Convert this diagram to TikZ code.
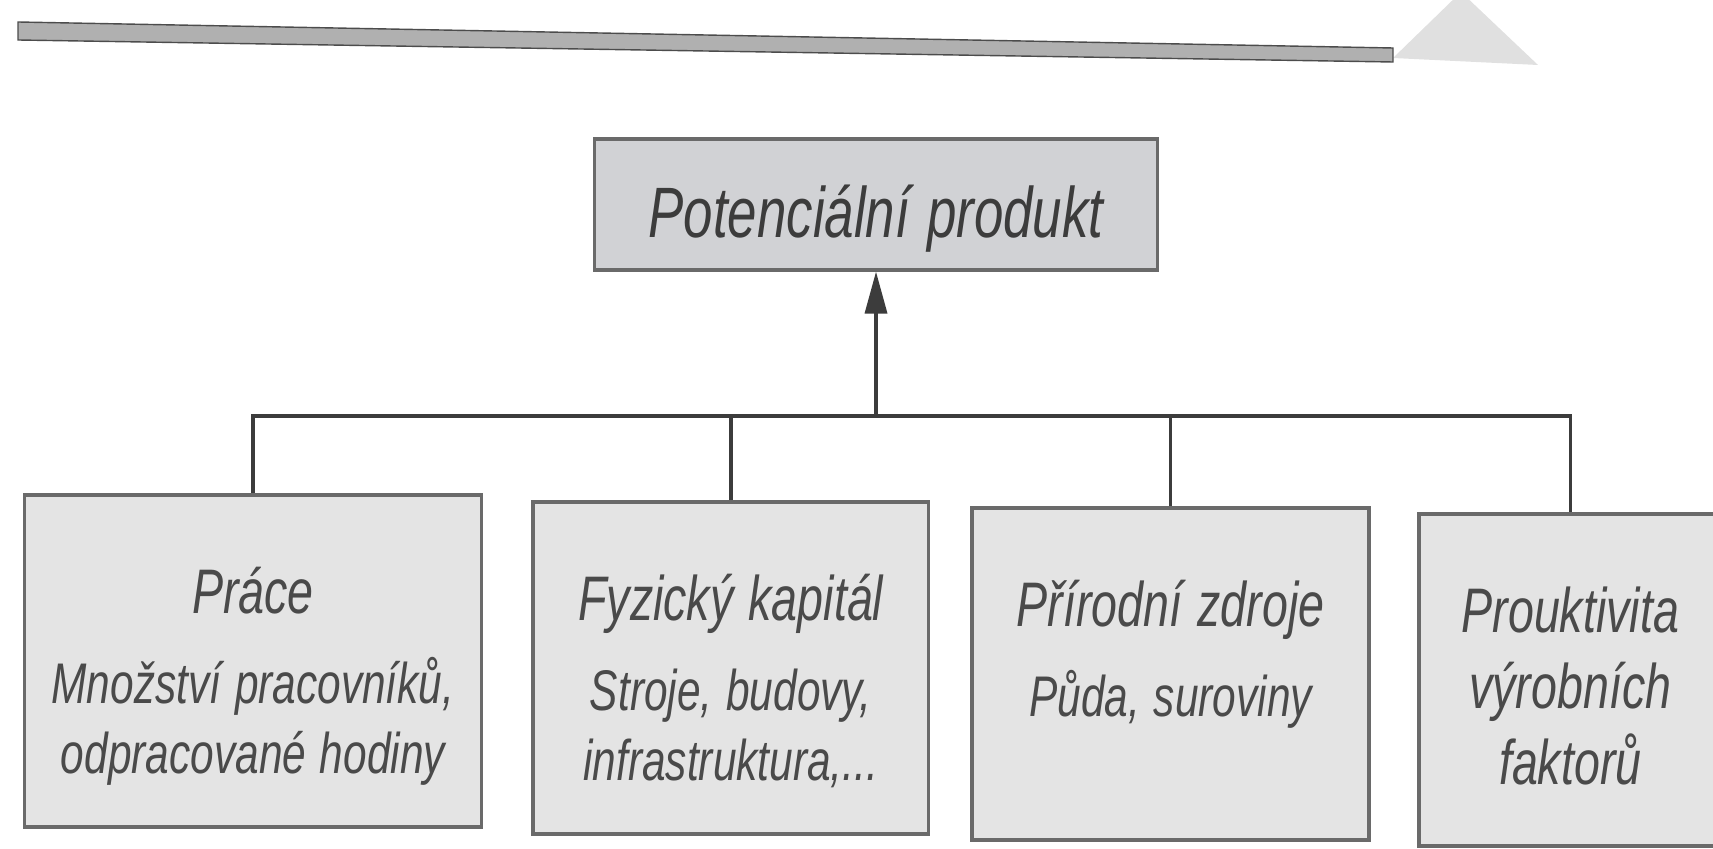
\documentclass[tikz,border=0pt]{standalone}
\usepackage{fontspec}
\usetikzlibrary{arrows.meta, positioning}
\newfontfamily\scanfont[FakeStretch=0.74]{Liberation Sans}
\newcommand{\tightsp}{\spaceskip=0.24em\relax}
\definecolor{boxgray}{HTML}{E4E4E4}
\definecolor{topgray}{HTML}{D1D2D5}
\definecolor{edgegray}{HTML}{6A6A6A}
\definecolor{inkgray}{HTML}{3C3C3C}
\definecolor{lightink}{HTML}{4A4A4A}
\tikzset{
    x=0.01cm, y=-0.01cm, % one unit is one pixel of the scan, y runs down
    >={Triangle[length=4.2mm, width=2.2mm]}, % heavy arrow head
    goal/.style={draw=edgegray, fill=topgray, line width=1pt, inner sep=0pt, minimum width=5.63cm, text height=0.99cm, text depth=0.32cm, text=inkgray, font=\scanfont\itshape\fontsize{20.3}{24}\selectfont\tightsp}, % the top box
    factor/.style={draw=edgegray, fill=boxgray, line width=1pt, inner sep=0pt, align=flush center, text height=1.19cm, text depth=2.13cm, text=lightink, font=\scanfont\itshape\fontsize{16.3}{19.9}\selectfont\tightsp}, % the four boxes below
    link/.style={draw=inkgray, line width=1pt}, % connectors
}
\newcommand{\ttl}[1]{{\fontsize{17.9}{19.9}\selectfont\tightsp #1}}

\begin{document}
\begin{tikzpicture}
    \useasboundingbox (0,0) rectangle (1713,849);
    \clip (0,0) rectangle (1713,849);
    % edge of the scanned page
    \fill[gray!24] (1393,58) -- (1461,-8) -- (1538,65) -- cycle;
    \fill[gray!62, draw=gray!60!black] (18,22) -- (1393,48) -- (1393,62) -- (18,40) -- cycle;

    \node[goal] (pp) at (876,137) [anchor=north] {Potenciální produkt};
    \node[factor, text width=4.57cm, anchor=north] (f1) at (253,493) {\ttl{Práce}\\[2mm]Množství pracovníků,\\odpracované hodiny};
    \node[factor, text width=3.95cm, right=0.48cm of f1, yshift=-0.07cm] (f2) {\ttl{Fyzický kapitál}\\[2mm]Stroje, budovy,\\infrastruktura,...};
    \node[factor, text width=3.97cm, right=0.40cm of f2, yshift=-0.06cm] (f3) {\ttl{Přírodní zdroje}\\[2mm]Půda, suroviny};
    \node[factor, text width=3.03cm, right=0.46cm of f3, yshift=-0.06cm, font=\scanfont\itshape\fontsize{17.9}{21.6}\selectfont\tightsp] (f4) {Prouktivita\\výrobních\\faktorů};

    \coordinate (bus) at (876,416);
    \draw[link, ->] (bus) -- (pp.south);
    \draw[link] (f1.north) |- (bus -| f4.north) -- (f4.north);
    \draw[link] (f2.north) -- (f2.north |- bus);
    \draw[link] (f3.north) -- (f3.north |- bus);
\end{tikzpicture}
\end{document}
